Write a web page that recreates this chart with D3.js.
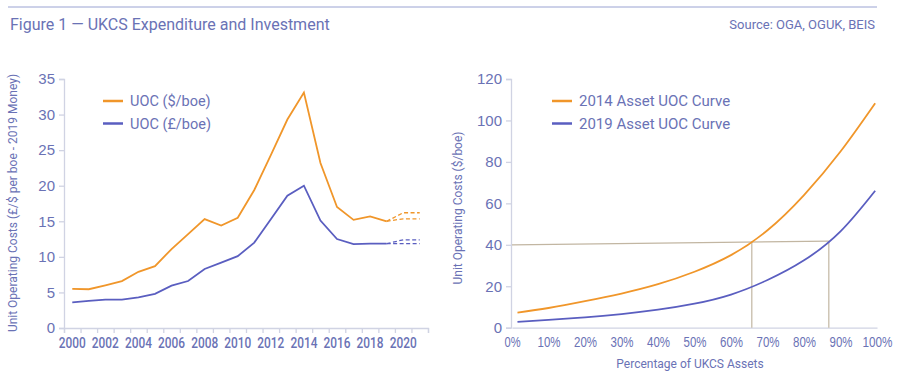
<!DOCTYPE html>
<html>
<head>
<meta charset="utf-8">
<script src="https://cdn.jsdelivr.net/npm/d3@7"></script>
<style>
  body { margin: 0; background: #fff; }
  svg { font-family: Roboto, "Liberation Sans", sans-serif; }
  .tick text { fill: #6a72b5; }
</style>
</head>
<body>
<div id="chart"></div>
<script>
// left chart data
var years = [2000, 2001, 2002, 2003, 2004, 2005, 2006, 2007, 2008, 2009,
    2010, 2011, 2012, 2013, 2014, 2015, 2016, 2017, 2018, 2019];
var uocDollar = [5.5, 5.45, 6.0, 6.6, 7.9, 8.7, 11.1, 13.2, 15.3, 14.4,
    15.5, 19.4, 24.3, 29.3, 33.1, 23.2, 17.0, 15.2, 15.7, 15.0];
var uocPound = [3.6, 3.8, 4.0, 4.0, 4.3, 4.8, 5.95, 6.6, 8.3, 9.2,
    10.1, 12.0, 15.3, 18.6, 20.0, 15.1, 12.5, 11.8, 11.85, 11.85];
// forecast (dashed)
var fcYears = [2019, 2020, 2021];
var fcDollarHigh = [15.0, 16.2, 16.2];
var fcDollarLow = [15.0, 15.35, 15.35];
var fcPoundHigh = [11.85, 12.4, 12.4];
var fcPoundLow = [11.85, 11.85, 11.85];
var leftYTicks = [0, 5, 10, 15, 20, 25, 30, 35];
var leftXLabels = [2000, 2002, 2004, 2006, 2008, 2010, 2012, 2014, 2016, 2018, 2020];

// right chart data
var pct = [0.015, 0.10, 0.20, 0.30, 0.40, 0.50, 0.60, 0.70, 0.80, 0.90, 0.995];
var curve2014 = [7.3, 9.5, 12.8, 16.5, 21.0, 27.0, 35.0, 47.0, 64.0, 85.0, 108.3];
var curve2019 = [2.8, 3.8, 5.0, 6.6, 8.7, 11.6, 16.0, 23.0, 32.5, 46.5, 66.1];
var refPoints = [[0, 40], [0.657, 41.5], [0.868, 41.8]];
var rightYTicks = [0, 20, 40, 60, 80, 100, 120];
var rightXTicks = [0, 0.1, 0.2, 0.3, 0.4, 0.5, 0.6, 0.7, 0.8, 0.9, 1.0];

var orange = "#f0962a";
var blue = "#5a5ec0";
var textColor = "#6a72b5";
var axisColor = "#d0d3e3";
var refColor = "#c2b6a2";

var svg = d3.select("#chart")
    .append("svg")
    .attr("width", 900)
    .attr("height", 386);

// header
svg.append("line")
    .attr("x1", 8).attr("x2", 877)
    .attr("y1", 7).attr("y2", 7)
    .attr("stroke", "#9aa3d2")
    .attr("stroke-width", 1);
svg.append("text")
    .attr("x", 10).attr("y", 30)
    .attr("fill", textColor)
    .style("font-size", "16px")
    .text("Figure 1 \u2014 UKCS Expenditure and Investment");
svg.append("text")
    .attr("x", 875).attr("y", 29)
    .attr("text-anchor", "end")
    .attr("fill", textColor)
    .style("font-size", "13px")
    .text("Source: OGA, OGUK, BEIS");

function styleAxis(g) {
    g.select(".domain").attr("stroke", axisColor).attr("stroke-width", 1.3);
    g.selectAll(".tick line").attr("stroke", axisColor).attr("stroke-width", 1.3);
}

// ---------- left chart ----------
var xL = d3.scaleLinear().domain([1999.5, 2021.5]).range([64, 428]);
var yL = d3.scaleLinear().domain([0, 35]).range([328, 79]);

var leftY = svg.append("g")
    .attr("transform", "translate(64,0)")
    .call(d3.axisLeft(yL).tickValues(leftYTicks).tickSize(5).tickPadding(4));
leftY.selectAll(".tick text").style("font-size", "15px");
styleAxis(leftY);

var boundaries = d3.range(1999.5, 2022, 1);
var leftX = svg.append("g")
    .attr("transform", "translate(0,328)")
    .call(d3.axisBottom(xL).tickValues(boundaries).tickSize(5).tickFormat(""));
styleAxis(leftX);

svg.append("g")
    .selectAll("text")
    .data(leftXLabels)
    .enter()
    .append("text")
    .attr("x", d => xL(d))
    .attr("y", 348)
    .attr("text-anchor", "middle")
    .attr("fill", textColor)
    .attr("textLength", 27)
    .attr("lengthAdjust", "spacingAndGlyphs")
    .style("font-size", "14px")
    .style("font-weight", "500")
    .text(d => d);

svg.append("text")
    .attr("transform", "translate(17,203) rotate(-90)")
    .attr("text-anchor", "middle")
    .attr("fill", textColor)
    .style("font-size", "12px")
    .text("Unit Operating Costs (£/$ per boe - 2019 Money)");

var lineL = d3.line().x(d => xL(d[0])).y(d => yL(d[1]));

function drawLeft(xs, vs, color, dash) {
    svg.append("path")
        .datum(xs.map((x, i) => [x, vs[i]]))
        .attr("d", lineL)
        .attr("fill", "none")
        .attr("stroke", color)
        .attr("stroke-width", dash ? 1.3 : 1.8)
        .attr("stroke-dasharray", dash ? "4,2.5" : null);
}
drawLeft(years, uocDollar, orange, false);
drawLeft(years, uocPound, blue, false);
drawLeft(fcYears, fcDollarHigh, orange, true);
drawLeft(fcYears, fcDollarLow, orange, true);
drawLeft(fcYears, fcPoundHigh, blue, true);
drawLeft(fcYears, fcPoundLow, blue, true);

// left legend
var legendL = [["UOC ($/boe)", orange], ["UOC (£/boe)", blue]];
legendL.forEach(function (d, i) {
    var y = 101 + i * 22.5;
    svg.append("line")
        .attr("x1", 103).attr("x2", 123)
        .attr("y1", y).attr("y2", y)
        .attr("stroke", d[1]).attr("stroke-width", 2.5);
    svg.append("text")
        .attr("x", 130).attr("y", y + 5)
        .attr("fill", textColor)
        .style("font-size", "14.5px")
        .text(d[0]);
});

// ---------- right chart ----------
var xR = d3.scaleLinear().domain([0, 1]).range([512, 877]);
var yR = d3.scaleLinear().domain([0, 120]).range([327.7, 79]);

var rightY = svg.append("g")
    .attr("transform", "translate(511,0)")
    .call(d3.axisLeft(yR).tickValues(rightYTicks).tickSize(5).tickPadding(4));
rightY.selectAll(".tick text").style("font-size", "15px");
styleAxis(rightY);

var rightX = svg.append("g")
    .attr("transform", "translate(0,327.7)")
    .call(d3.axisBottom(xR).tickValues(rightXTicks).tickSize(0).tickPadding(9)
        .tickFormat(d3.format(".0%")));
rightX.select(".domain").attr("stroke", axisColor).attr("stroke-width", 1.3);
rightX.selectAll(".tick text")
    .style("font-size", "14px")
    .style("font-weight", "500")
    .attr("textLength", d => d === 1 ? 30 : (d === 0 ? 16 : 23))
    .attr("lengthAdjust", "spacingAndGlyphs");

svg.append("text")
    .attr("transform", "translate(462,208) rotate(-90)")
    .attr("text-anchor", "middle")
    .attr("fill", textColor)
    .style("font-size", "12px")
    .text("Unit Operating Costs ($/boe)");

svg.append("text")
    .attr("x", 690).attr("y", 368)
    .attr("text-anchor", "middle")
    .attr("fill", textColor)
    .style("font-size", "12px")
    .text("Percentage of UKCS Assets");

// reference lines
svg.append("line")
    .attr("x1", xR(refPoints[0][0])).attr("y1", yR(refPoints[0][1]))
    .attr("x2", xR(refPoints[2][0])).attr("y2", yR(refPoints[2][1]))
    .attr("stroke", refColor).attr("stroke-width", 1.2);
refPoints.slice(1).forEach(function (p) {
    svg.append("line")
        .attr("x1", xR(p[0])).attr("y1", yR(p[1]))
        .attr("x2", xR(p[0])).attr("y2", yR(0))
        .attr("stroke", refColor).attr("stroke-width", 1.2);
});

var lineR = d3.line().x(d => xR(d[0])).y(d => yR(d[1])).curve(d3.curveNatural);
[[curve2014, orange], [curve2019, blue]].forEach(function (s) {
    svg.append("path")
        .datum(pct.map((p, i) => [p, s[0][i]]))
        .attr("d", lineR)
        .attr("fill", "none")
        .attr("stroke", s[1])
        .attr("stroke-width", 1.8);
});

// right legend
var legendR = [["2014 Asset UOC Curve", orange], ["2019 Asset UOC Curve", blue]];
legendR.forEach(function (d, i) {
    var y = 101 + i * 22.5;
    svg.append("line")
        .attr("x1", 552).attr("x2", 572)
        .attr("y1", y).attr("y2", y)
        .attr("stroke", d[1]).attr("stroke-width", 2.5);
    svg.append("text")
        .attr("x", 579).attr("y", y + 5)
        .attr("fill", textColor)
        .style("font-size", "15px")
        .text(d[0]);
});
</script>
</body>
</html>
